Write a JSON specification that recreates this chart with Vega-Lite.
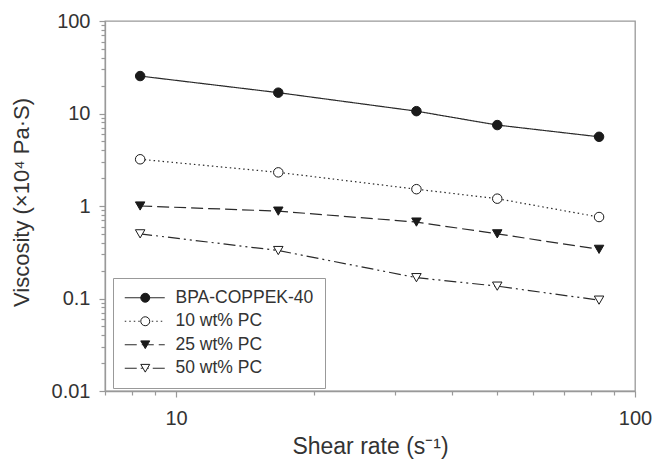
{
  "$schema": "https://vega.github.io/schema/vega-lite/v6.json",
  "width": 530,
  "height": 370,
  "autosize": "none",
  "padding": {"left": 105, "top": 21, "right": 17, "bottom": 68},
  "background": "white",
  "config": {
    "font": "Liberation Sans",
    "view": {"stroke": "#999", "strokeWidth": 1.3},
    "axis": {"grid": false, "domainColor": "#999", "domainWidth": 1.3, "tickColor": "#999", "tickWidth": 1.2, "labelColor": "#333", "titleColor": "#333", "labelFont": "Liberation Sans", "titleFont": "Liberation Sans", "titleFontWeight": "normal"}
  },
  "data": {
    "values": [
      {"rate": 8.35, "visc": 25.4, "series": "BPA-COPPEK-40"},
      {"rate": 16.7, "visc": 16.8, "series": "BPA-COPPEK-40"},
      {"rate": 33.4, "visc": 10.6, "series": "BPA-COPPEK-40"},
      {"rate": 50.1, "visc": 7.5, "series": "BPA-COPPEK-40"},
      {"rate": 83.5, "visc": 5.6, "series": "BPA-COPPEK-40"},
      {"rate": 8.35, "visc": 3.2, "series": "10 wt% PC"},
      {"rate": 16.7, "visc": 2.31, "series": "10 wt% PC"},
      {"rate": 33.4, "visc": 1.52, "series": "10 wt% PC"},
      {"rate": 50.1, "visc": 1.2, "series": "10 wt% PC"},
      {"rate": 83.5, "visc": 0.76, "series": "10 wt% PC"},
      {"rate": 8.35, "visc": 1.0, "series": "25 wt% PC"},
      {"rate": 16.7, "visc": 0.88, "series": "25 wt% PC"},
      {"rate": 33.4, "visc": 0.67, "series": "25 wt% PC"},
      {"rate": 50.1, "visc": 0.5, "series": "25 wt% PC"},
      {"rate": 83.5, "visc": 0.34, "series": "25 wt% PC"},
      {"rate": 8.35, "visc": 0.5, "series": "50 wt% PC"},
      {"rate": 16.7, "visc": 0.33, "series": "50 wt% PC"},
      {"rate": 33.4, "visc": 0.168, "series": "50 wt% PC"},
      {"rate": 50.1, "visc": 0.136, "series": "50 wt% PC"},
      {"rate": 83.5, "visc": 0.096, "series": "50 wt% PC"}
    ]
  },
  "encoding": {
    "x": {
      "field": "rate", "type": "quantitative",
      "scale": {"type": "log", "domain": [7, 100], "nice": false},
      "axis": {
        "title": "Shear rate (s⁻¹)",
        "titleFontSize": 23,
        "titlePadding": 7,
        "values": [7, 8, 9, 10, 20, 30, 40, 50, 60, 70, 80, 90, 100],
        "format": "~g",
        "labelExpr": "datum.value == 10 || datum.value == 100 ? datum.label : ''",
        "labelFontSize": 20,
        "labelPadding": 11,
        "labelOverlap": false,
        "labelFlush": false,
        "tickSize": {"condition": {"test": "datum.value == 10 || datum.value == 100", "value": 6}, "value": 4}
      }
    },
    "y": {
      "field": "visc", "type": "quantitative",
      "scale": {"type": "log", "domain": [0.01, 100], "nice": false},
      "axis": {
        "title": "Viscosity (×10⁴ Pa·S)",
        "titleFontSize": 22,
        "titleX": -72,
        "titleY": 181,
        "titleBaseline": "bottom",
        "values": [0.01, 0.02, 0.03, 0.04, 0.05, 0.06, 0.07, 0.08, 0.09, 0.1, 0.2, 0.3, 0.4, 0.5, 0.6, 0.7, 0.8, 0.9, 1, 2, 3, 4, 5, 6, 7, 8, 9, 10, 20, 30, 40, 50, 60, 70, 80, 90, 100],
        "format": "~g",
        "labelExpr": "indexof([0.01, 0.1, 1, 10, 100], datum.value) >= 0 ? datum.label : ''",
        "labelFontSize": 20,
        "labelPadding": 9,
        "labelOverlap": false,
        "labelFlush": false,
        "tickSize": {"condition": {"test": "indexof([0.01, 0.1, 1, 10, 100], datum.value) >= 0", "value": 6}, "value": 4}
      }
    }
  },
  "layer": [
    {
      "mark": {"type": "line", "color": "#2a2a2a", "strokeWidth": 1.2},
      "encoding": {
        "strokeDash": {
          "field": "series", "type": "nominal",
          "sort": ["BPA-COPPEK-40", "10 wt% PC", "25 wt% PC", "50 wt% PC"],
          "scale": {"range": [[1, 0], [1.5, 3], [12, 5], [12, 4, 2, 4, 2, 4]]},
          "legend": {
            "title": null,
            "orient": "none",
            "legendX": 8,
            "legendY": 257,
            "direction": "vertical",
            "symbolType": "M-4,0L4,0",
            "symbolSize": 100,
            "symbolStrokeWidth": 1.2,
            "symbolStrokeColor": "#2a2a2a",
            "symbolOffset": 12,
            "labelFontSize": 17.5,
            "labelFont": "Liberation Sans",
            "labelColor": "#333",
            "labelOffset": 22,
            "padding": 11,
            "rowPadding": 4.5,
            "strokeColor": "#999"
          }
        }
      }
    },
    {
      "mark": {"type": "point", "filled": true, "size": 90, "strokeWidth": 1, "opacity": 1},
      "encoding": {
        "shape": {
          "field": "series", "type": "nominal",
          "scale": {"domain": ["BPA-COPPEK-40", "10 wt% PC", "25 wt% PC", "50 wt% PC"], "range": ["circle", "circle", "triangle-down", "triangle-down"]},
          "legend": {
            "title": null,
            "orient": "none",
            "legendX": 8,
            "legendY": 257,
            "direction": "vertical",
            "symbolSize": 80,
            "symbolStrokeWidth": 1,
            "symbolOpacity": 1,
            "symbolOffset": 12.5,
            "labelFontSize": 17.5,
            "labelFont": "Liberation Sans",
            "labelOpacity": 0,
            "labelOffset": 22,
            "padding": 11,
            "rowPadding": 4.5
          }
        },
        "fill": {
          "field": "series", "type": "nominal",
          "scale": {"domain": ["BPA-COPPEK-40", "10 wt% PC", "25 wt% PC", "50 wt% PC"], "range": ["#1a1a1a", "white", "#1a1a1a", "white"]}
        },
        "stroke": {
          "field": "series", "type": "nominal",
          "scale": {"domain": ["BPA-COPPEK-40", "10 wt% PC", "25 wt% PC", "50 wt% PC"], "range": ["#1a1a1a", "#1a1a1a", "#1a1a1a", "#1a1a1a"]}
        }
      }
    }
  ]
}
